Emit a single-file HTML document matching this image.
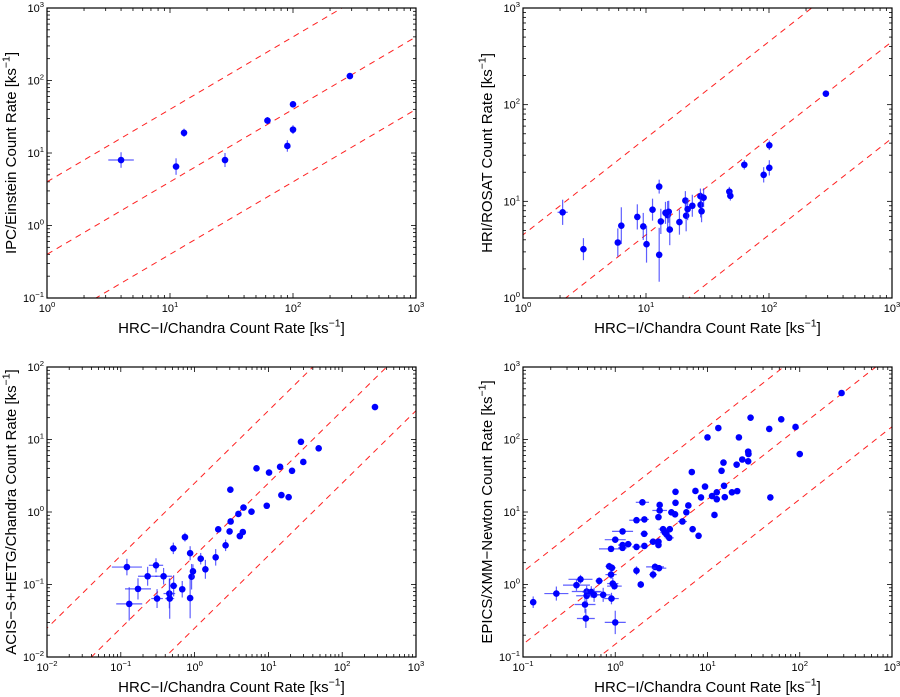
<!DOCTYPE html>
<html><head><meta charset="utf-8">
<style>
html,body{margin:0;padding:0;background:#fff;width:900px;height:697px;overflow:hidden;}
svg{display:block;font-family:"Liberation Sans",sans-serif;overflow:hidden;}
</style></head>
<body>
<svg id="c" width="900" height="697" viewBox="0 0 900 697"></svg>
<script>
// ---- Panel 1: IPC/Einstein ----
const p1X = [4, 11.2, 13, 28, 62, 100, 90, 100, 290];
const p1Y = [8, 6.5, 19, 8, 28, 47, 12.5, 21, 115];
const p1XE = [1.27, 1.06, 1.03, 1.02, 1.02, 1.02, 1.02, 1.02, 1.01];
const p1YE = [1.28, 1.3, 1.14, 1.25, 1.12, 1.08, 1.2, 1.15, 1.05];
// ---- Panel 2: HRI/ROSAT ----
const p2X = [2.1,3.1,5.9,6.3,8.5,9.5,10.1,11.3,12.8,12.8,13.2,14.4,15,15.3,15.6,18.7,20.9,21.2,21.8,23.8,27.7,27.8,28.3,29.4,47.6,48.5,63,90.5,100.6,100.6,290];
const p2Y = [7.7,3.2,3.75,5.6,6.9,5.5,3.6,8.2,14.2,2.8,6.2,7.6,7.2,7.8,5.1,6.1,10.2,7.1,8.3,9.0,11.3,9.2,7.9,10.9,12.6,11.4,23.9,18.8,22.2,38,130];
const p2XE = [1.1,1.06,1.03,1.03,1.03,1.03,1.03,1.05,1.04,1.03,1.03,1.03,1.03,1.03,1.03,1.03,1.02,1.02,1.02,1.02,1.02,1.02,1.02,1.02,1.02,1.02,1.02,1.02,1.02,1.02,1.01];
const p2YE = [1.35,1.3,1.4,1.55,1.35,1.38,1.55,1.3,1.18,1.9,1.35,1.3,1.4,1.3,1.45,1.35,1.25,1.45,1.3,1.3,1.2,1.35,1.3,1.25,1.12,1.12,1.12,1.2,1.2,1.12,1.05];
// ---- Panel 3: ACIS-S+HETG/Chandra ----
const p3X = [0.121,0.130,0.171,0.231,0.30,0.31,0.38,0.455,0.46,0.515,0.52,0.68,0.74,0.87,0.87,0.91,0.95,1.21,1.4,1.93,2.09,2.63,2.98,3.05,3.08,3.92,4.1,4.5,4.6,5.9,6.9,9.5,10.2,14.4,15,18.8,20.9,27.6,29.7,48,278];
const p3Y = [0.174,0.054,0.087,0.13,0.184,0.064,0.13,0.075,0.064,0.315,0.096,0.086,0.45,0.27,0.065,0.128,0.152,0.227,0.162,0.237,0.577,0.347,0.54,2.03,0.74,0.94,0.465,0.53,1.15,1.01,4.0,1.22,3.5,4.2,1.71,1.6,3.7,9.3,4.9,7.55,28];
const p3XE = [1.6,1.5,1.5,1.35,1.25,1.2,1.3,1.2,1.15,1.12,1.12,1.08,1.1,1.08,1.05,1.06,1.06,1.05,1.04,1.04,1.03,1.03,1.03,1.02,1.02,1.02,1.02,1.02,1.02,1.02,1.02,1.02,1.02,1.02,1.02,1.02,1.02,1.02,1.02,1.02,1.01];
const p3YE = [1.3,1.7,1.4,1.35,1.25,1.35,1.3,1.6,1.9,1.2,1.4,1.3,1.15,1.25,1.9,1.5,1.25,1.2,1.35,1.3,1.1,1.2,1.08,1.05,1.08,1.06,1.08,1.07,1.06,1.06,1.04,1.05,1.04,1.04,1.04,1.04,1.04,1.04,1.04,1.04,1.02];
// ---- Panel 4: EPICS/XMM-Newton ----
const p4X = [0.129,0.23,0.38,0.42,0.47,0.48,0.49,0.49,0.55,0.59,0.67,0.74,0.86,0.90,0.91,0.92,0.94,0.98,1.0,0.9,1.0,1.2,1.2,1.2,1.38,1.7,1.7,1.7,1.89,1.97,2.06,2.07,2.07,2.57,2.57,2.7,2.94,2.94,2.94,2.98,3.03,3.03,3.3,3.45,3.6,3.85,3.9,4.06,4.45,4.5,4.5,5.35,5.9,6.2,6.76,6.9,7.4,8.0,8.5,9.4,10,11.2,11.9,12.6,12.6,13.1,14.2,14.9,15.1,15.4,18.4,20.7,21,21.9,23.8,27.6,27.6,27.8,29.3,46.7,48,63,90,100,284];
const p4Y = [0.57,0.75,0.98,1.18,0.53,0.34,0.80,0.70,0.79,0.72,1.12,0.72,1.78,1.37,0.64,1.70,1.03,0.95,0.30,3.1,4.15,5.4,3.5,3.2,3.6,7.7,3.3,1.55,1.0,13.6,5.0,7.9,3.4,3.9,1.37,1.75,3.5,3.9,8.5,1.68,10.5,12.5,5.8,5.2,4.9,4.4,5.8,9.9,9.3,19,13.4,7.4,9.9,12.3,35.6,5.8,19.5,4.7,15.9,22.4,107,16.6,9.1,18.7,15.0,144,37,48,23,16,18.7,45,19.4,107,53,68,50,63,200,140,15.9,190,149,63,438];
const p4XE = [1.03,1.35,1.4,1.35,1.3,1.25,1.45,1.3,1.25,1.2,1.1,1.2,1.1,1.15,1.2,1.1,1.15,1.2,1.3,1.35,1.3,1.3,1.12,1.12,1.1,1.2,1.12,1.08,1.06,1.18,1.1,1.12,1.1,1.1,1.1,1.25,1.06,1.06,1.06,1.2,1.2,1.06,1.12,1.12,1.06,1.12,1.08,1.08,1.06,1.06,1.06,1.12,1.04,1.04,1.04,1.04,1.03,1.03,1.03,1.03,1.03,1.03,1.03,1.03,1.03,1.03,1.03,1.03,1.03,1.03,1.03,1.03,1.03,1.03,1.03,1.03,1.03,1.03,1.03,1.02,1.02,1.02,1.02,1.02,1.01];
const p4YE = [1.2,1.25,1.2,1.15,1.3,1.35,1.2,1.25,1.2,1.25,1.12,1.25,1.12,1.15,1.2,1.12,1.2,1.12,1.45,1.06,1.05,1.05,1.06,1.06,1.06,1.05,1.06,1.15,1.12,1.05,1.05,1.05,1.06,1.05,1.15,1.12,1.05,1.05,1.05,1.1,1.05,1.05,1.05,1.05,1.05,1.05,1.05,1.04,1.04,1.05,1.04,1.04,1.04,1.04,1.04,1.04,1.04,1.04,1.04,1.04,1.03,1.03,1.03,1.03,1.03,1.03,1.03,1.03,1.03,1.03,1.03,1.03,1.03,1.03,1.03,1.03,1.03,1.03,1.03,1.03,1.03,1.03,1.03,1.03,1.02];

const panels = [
 {name:'ipc-einstein', L:47,R:416,T:8,B:298, x0:0,x1:3, y0:-1,y1:3, X:p1X,Y:p1Y,XE:p1XE,YE:p1YE, k:[4,0.4,0.04], ytitle:'IPC/Einstein Count Rate [ks', ytx:16, xty:333},
 {name:'hri-rosat', L:523,R:892,T:8,B:298, x0:0,x1:3, y0:0,y1:3, X:p2X,Y:p2Y,XE:p2XE,YE:p2YE, k:[4.5,0.45,0.045], ytitle:'HRI/ROSAT Count Rate [ks', ytx:492, xty:333},
 {name:'acis-hetg', L:47,R:416,T:367,B:657, x0:-2,x1:3, y0:-2,y1:2, X:p3X,Y:p3Y,XE:p3XE,YE:p3YE, k:[2.5,0.25,0.025], ytitle:'ACIS\u2212S+HETG/Chandra Count Rate [ks', ytx:16, xty:692},
 {name:'epics-xmm', L:523,R:892,T:367,B:657, x0:-1,x1:3, y0:-1,y1:3, X:p4X,Y:p4Y,XE:p4XE,YE:p4YE, k:[15,1.5,0.15], ytitle:'EPICS/XMM\u2212Newton Count Rate [ks', ytx:492, xty:692}
];
const NS='http://www.w3.org/2000/svg';
const svg=document.getElementById('c');
function mk(tag,attrs,parent){const e=document.createElementNS(NS,tag);for(const a in attrs)e.setAttribute(a,attrs[a]);(parent||svg).appendChild(e);return e;}
function sup(el,base,exp,size){el.appendChild(document.createTextNode(base));const t=document.createElementNS(NS,'tspan');t.setAttribute('dy',-size*0.45);t.setAttribute('font-size',size*0.7);t.textContent=exp;el.appendChild(t);}

panels.forEach((p,pi)=>{
  const g=mk('g',{});
  
  
  const sx=v=>p.L+(Math.log10(v)-p.x0)/(p.x1-p.x0)*(p.R-p.L);
  const sy=v=>p.B-(Math.log10(v)-p.y0)/(p.y1-p.y0)*(p.B-p.T);
  const cid='clip'+pi;
  const cp=mk('clipPath',{id:cid},g);mk('rect',{x:p.L,y:p.T,width:p.R-p.L,height:p.B-p.T},cp);
  const tg=mk('g',{stroke:'#000','stroke-width':0.8},g);
  
  
  for(let d=p.x0;d<p.x1;d++){for(let m=1;m<10;m++){const v=m*Math.pow(10,d);const x=sx(v);const len=m==1?5:3;
    mk('line',{x1:x,y1:p.B,x2:x,y2:p.B-len},tg);mk('line',{x1:x,y1:p.T,x2:x,y2:p.T+len},tg);}}
  for(let d=p.y0;d<p.y1;d++){for(let m=1;m<10;m++){const v=m*Math.pow(10,d);const y=sy(v);const len=m==1?5:3;
    mk('line',{x1:p.L,y1:y,x2:p.L+len,y2:y},tg);mk('line',{x1:p.R,y1:y,x2:p.R-len,y2:y},tg);}}
  for(let d=p.x0;d<=p.x1;d++){const t=mk('text',{x:sx(Math.pow(10,d)),y:p.B+14,'font-size':11,'text-anchor':'middle',fill:'#000'},g);
    
    
    sup(t,'10',String(d).replace('-','\u2212'),11);}
  for(let d=p.y0;d<=p.y1;d++){const t=mk('text',{x:p.L-3,y:sy(Math.pow(10,d))+4,'font-size':11,'text-anchor':'end',fill:'#000'},g);
    
    
    sup(t,'10',String(d).replace('-','\u2212'),11);}
  const lg=mk('g',{'clip-path':'url(#'+cid+')'},g);
  p.k.forEach(k=>{const xa=Math.pow(10,p.x0-1),xb=Math.pow(10,p.x1+1);
    const l=mk('line',{x1:sx(xa),y1:sy(k*xa),x2:sx(xb),y2:sy(k*xb),stroke:'#ff2020','stroke-width':1,'stroke-dasharray':'6,5'},lg);
    
    });
  const dg=mk('g',{'clip-path':'url(#'+cid+')'},g);
  p.X.forEach((xv,i)=>{const yv=p.Y[i];const x=sx(xv),y=sy(yv);
    const e1=mk('line',{x1:sx(xv/p.XE[i]),y1:y,x2:sx(xv*p.XE[i]),y2:y,stroke:'#2a2aff','stroke-width':1.2,'stroke-opacity':0.75},dg);
    
    
    const e2=mk('line',{x1:x,y1:sy(yv/p.YE[i]),x2:x,y2:sy(yv*p.YE[i]),stroke:'#2a2aff','stroke-width':1.2,'stroke-opacity':0.75},dg);
    
    
    const c=mk('circle',{cx:x,cy:y,r:3.3,fill:'#0000ff'},dg);
    
    });
  const fr=mk('rect',{x:p.L,y:p.T,width:p.R-p.L,height:p.B-p.T,fill:'none',stroke:'#000','stroke-width':1.2},g);
  
  
  const xt=mk('text',{x:(p.L+p.R)/2,y:p.xty,'font-size':15,'text-anchor':'middle',fill:'#000'},g);
  
  
  sup(xt,'HRC\u2212I/Chandra Count Rate [ks','\u22121',15);
  const tail=document.createElementNS(NS,'tspan');tail.setAttribute('dy',15*0.45);tail.textContent=']';xt.appendChild(tail);
  const cy=(p.T+p.B)/2;
  const yt=mk('text',{x:p.ytx,y:cy,'font-size':15,'text-anchor':'middle',fill:'#000',transform:'rotate(-90 '+p.ytx+' '+cy+')'},g);
  
  
  sup(yt,p.ytitle,'\u22121',15);
  const tail2=document.createElementNS(NS,'tspan');tail2.setAttribute('dy',15*0.45);tail2.textContent=']';yt.appendChild(tail2);
});
</script>
</body></html>
